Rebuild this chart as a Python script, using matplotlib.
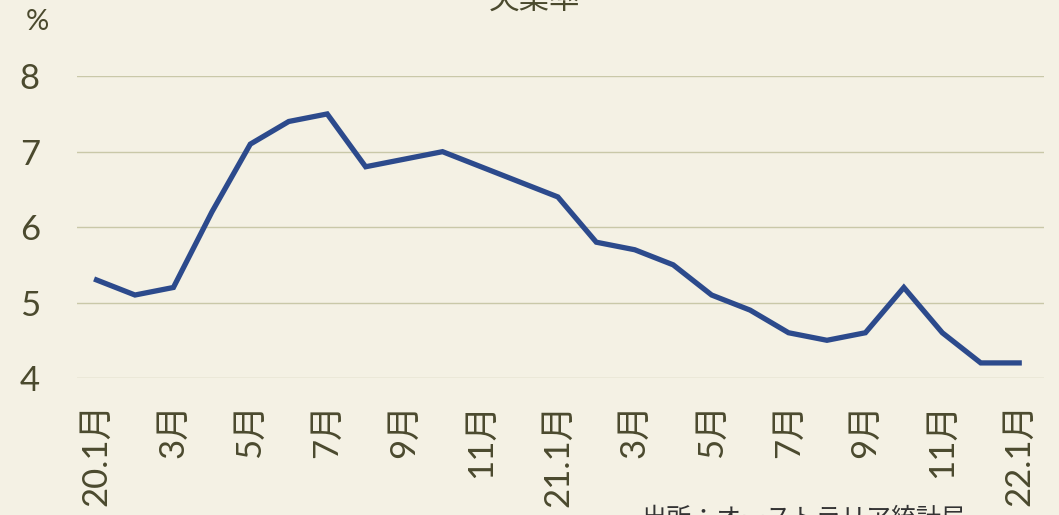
import matplotlib
matplotlib.use("Agg")
import matplotlib.pyplot as plt

plt.rcParams['font.family'] = ['Lato', 'Noto Sans CJK JP', 'DejaVu Sans']

months = ["20.1", "2", "3", "4", "5", "6", "7", "8", "9", "10", "11", "12",
          "21.1", "2", "3", "4", "5", "6", "7", "8", "9", "10", "11", "12", "22.1"]
rate = [5.3, 5.1, 5.2, 6.2, 7.1, 7.4, 7.5, 6.8, 6.9, 7.0, 6.8, 6.6,
        6.4, 5.8, 5.7, 5.5, 5.1, 4.9, 4.6, 4.5, 4.6, 5.2, 4.6, 4.2, 4.2]
tick_labels = ["20.1月", "3月", "5月", "7月", "9月", "11月", "21.1月",
               "3月", "5月", "7月", "9月", "11月", "22.1月"]
yticks = [4, 5, 6, 7, 8]

bg = "#f4f1e4"
txt = "#4b4a2e"

fig = plt.figure(figsize=(10.59, 5.15), dpi=100, facecolor=bg)
ax = fig.add_axes([0.073, 0.266, 0.913, 0.586], facecolor=bg)

x = list(range(len(rate)))
ax.plot(x, rate, color="#2c4a8c", lw=3.8, solid_joinstyle="miter")

ax.set_ylim(4, 8)
ax.set_xlim(-0.5, 24.65)
ax.set_yticks(yticks)
ax.set_yticklabels([str(v) for v in yticks], fontsize=25, color=txt)
ax.set_xticks(list(range(0, 25, 2)))
ax.set_xticklabels(tick_labels, rotation=90, fontsize=25, color=txt)
ax.tick_params(axis='y', length=0, pad=27)
ax.tick_params(axis='x', length=0, pad=18)
ax.grid(axis='y', color="#c9c8a8", lw=1.0)
ax.set_axisbelow(True)
for s in ax.spines.values():
    s.set_visible(False)

fig.text(0.035, 0.957, "%", fontsize=21, color=txt, ha="center", va="center")
fig.text(0.505, 1.0, "失業率", fontsize=22, color=txt, ha="center", va="center")
fig.text(0.605, -0.005, "出所：オーストラリア統計局", fontsize=18, color="#333333", ha="left", va="center")

fig.savefig("out.png", dpi=100, facecolor=bg)
